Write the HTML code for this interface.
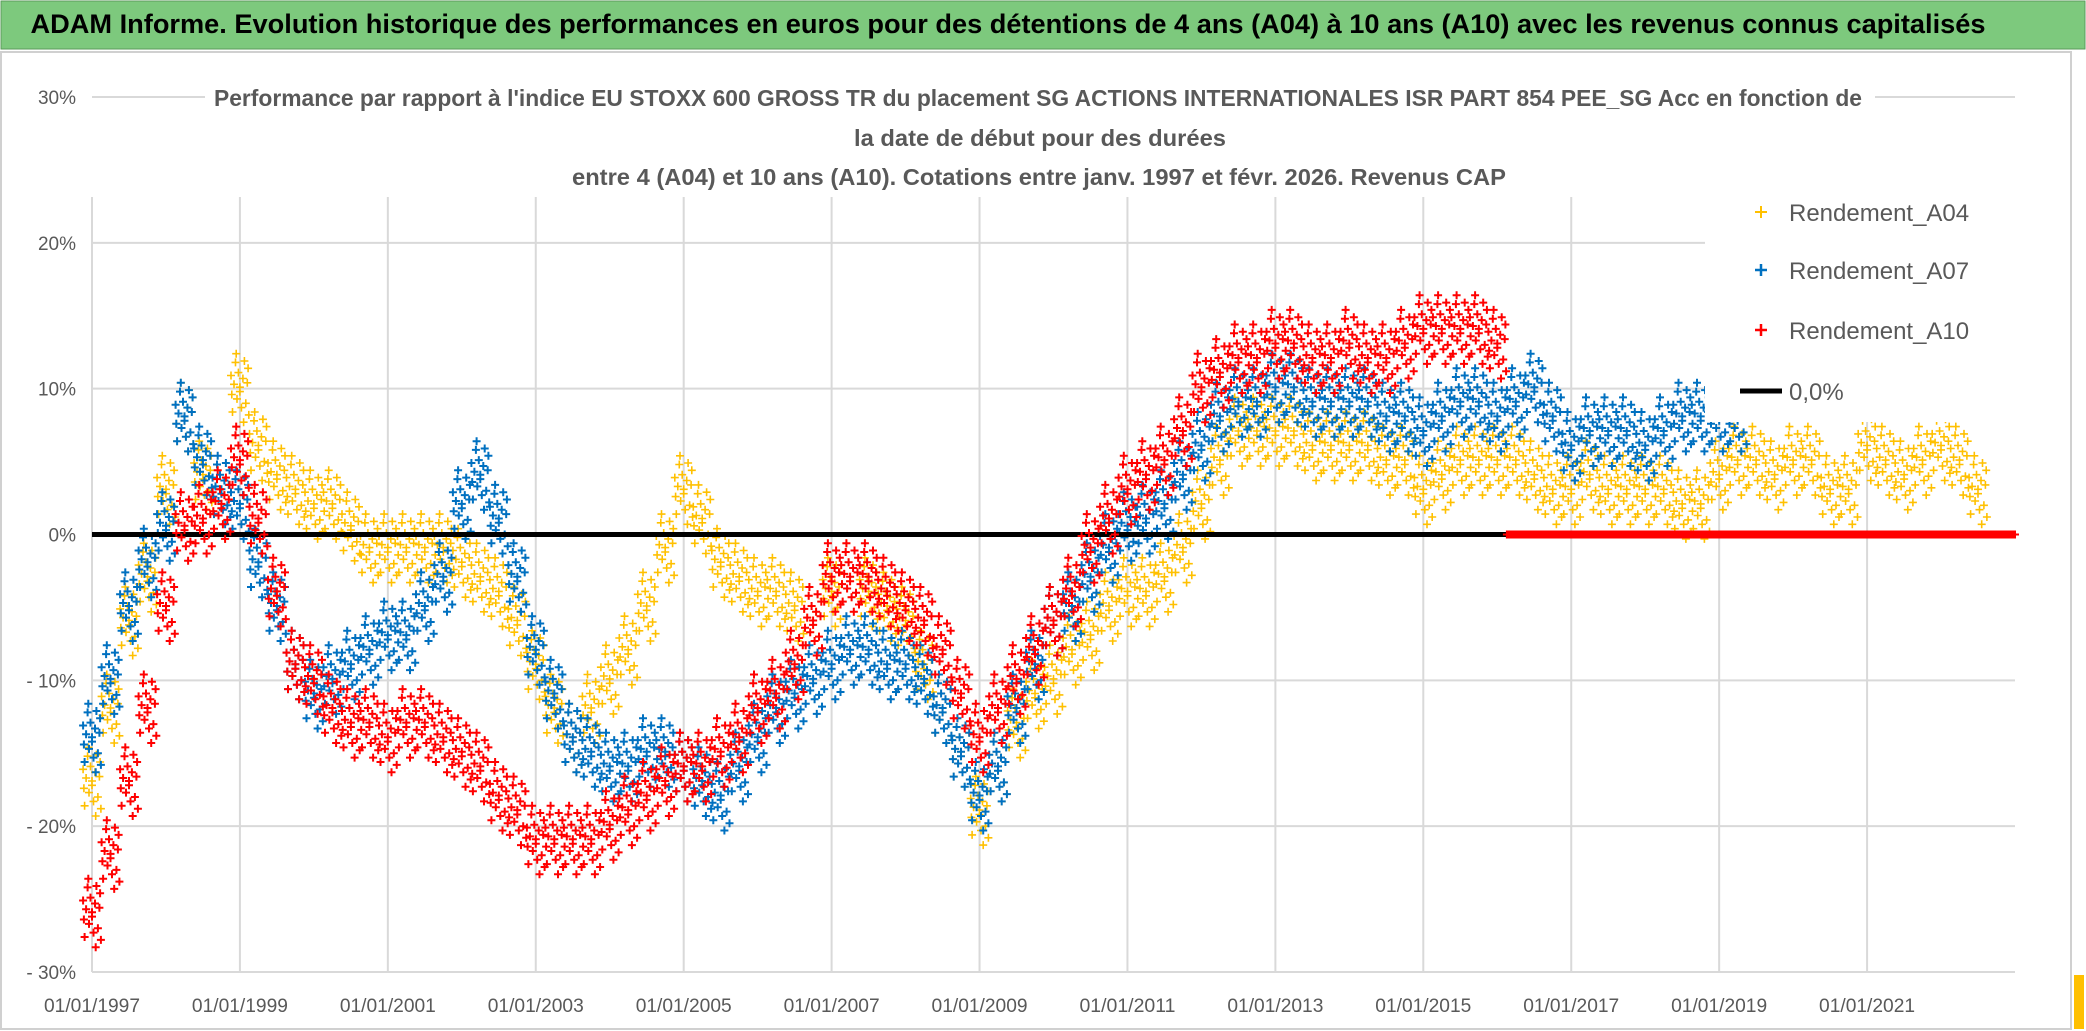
<!DOCTYPE html>
<html><head><meta charset="utf-8"><style>
html,body{margin:0;padding:0;background:#fff}
svg{display:block}
text{font-family:"Liberation Sans",sans-serif}
</style></head><body>
<svg id="chart" width="2086" height="1031" xmlns="http://www.w3.org/2000/svg">
<rect x="0" y="0" width="2086" height="1031" fill="#fff"/>
<rect x="1" y="1" width="2084" height="48" fill="#7DC97D" stroke="#5a9a5a" stroke-width="1"/>
<text x="1008" y="33" text-anchor="middle" font-size="27" font-weight="bold" fill="#000" textLength="1955" lengthAdjust="spacingAndGlyphs">ADAM Informe. Evolution historique des performances en euros pour des détentions de 4 ans (A04) à 10 ans (A10) avec les revenus connus capitalisés</text>
<rect x="1" y="52" width="2070" height="977" fill="none" stroke="#d0d0d0" stroke-width="2"/>
<g id="grid"></g>
<rect x="205" y="80" width="1670" height="115" fill="#fff"/>
<g fill="#595959" font-size="23" font-weight="bold" text-anchor="middle">
<text x="1038" y="106" textLength="1648" lengthAdjust="spacingAndGlyphs">Performance par rapport à l'indice EU STOXX 600 GROSS TR  du placement SG ACTIONS INTERNATIONALES ISR PART 854 PEE_SG Acc en fonction de</text>
<text x="1040" y="146" textLength="372" lengthAdjust="spacingAndGlyphs">la date de début pour des durées</text>
<text x="1039" y="185" textLength="934" lengthAdjust="spacingAndGlyphs">entre 4 (A04) et 10 ans (A10). Cotations entre janv. 1997 et févr. 2026. Revenus CAP</text>
</g>
<g id="ylabels"></g>
<g id="xlabels"></g>
<g id="series"></g>
<rect x="1705" y="197" width="310" height="225" fill="#fff"/>
<g font-size="24" fill="#595959">
<g><path d="M1755 212h12M1761 206v12" stroke="#FFC000" stroke-width="2"/><text x="1789" y="221">Rendement_A04</text></g>
<g><path d="M1755 270h12M1761 264v12" stroke="#0070C0" stroke-width="2.5"/><text x="1789" y="279">Rendement_A07</text></g>
<g><path d="M1755 330h12M1761 324v12" stroke="#FF0000" stroke-width="2.5"/><text x="1789" y="339">Rendement_A10</text></g>
<g><path d="M1740 391h42" stroke="#000" stroke-width="5"/><text x="1789" y="400">0,0%</text></g>
</g>
<rect x="2074" y="975" width="10" height="54" fill="#FFC000"/>
</svg>
<script>
const startYear = 1997;
const stepYears = 0.25;
const yTicks = [30, 20, 10, 0, -10, -20, -30];
const yTickLabels = ["30%", "20%", "10%", "0%", "- 10%", "- 20%", "- 30%"];
const xTicks = [1997, 1999, 2001, 2003, 2005, 2007, 2009, 2011, 2013, 2015, 2017, 2019, 2021];
const xTickLabels = ["01/01/1997","01/01/1999","01/01/2001","01/01/2003","01/01/2005","01/01/2007","01/01/2009","01/01/2011","01/01/2013","01/01/2015","01/01/2017","01/01/2019","01/01/2021"];
const a04 = [-17,-12,-6,-3, 3,8,4,2, 10,6,4,3, 2,2,0.5,-1, -1,-1,-1,-1, -2,-3,-4,-6, -9,-12,-14,-12, -10,-8,-5,-1, 3,1,-2,-3, -4,-4,-5,-6, -4,-3,-4,-5, -6,-9,-12,-15, -19,-16,-13,-11, -10,-8,-7,-5, -4,-4,-3,-1, 2,5,7,7, 7,7,6,6, 6,6,5,5, 3,4,5,5, 5,5,4,3, 3,4,3,3, 3,3,2,2, 4,5,5,4, 5,5,3,3, 6,5,4,5, 6,5,3,0, 0,0,0,0];
const a07 = [-14,-10,-5,-2, 0.5,8,5,3, 2,-2,-5,-9, -11,-10,-9,-8, -7,-7,-5,-3, 2,4,1,-3, -8,-11,-14,-15, -16,-16,-15,-15, -16,-17,-18,-16, -14,-12,-11,-10, -9,-8,-8,-9, -9,-10,-12,-15, -18,-16,-12,-9, -6,-5,-3,-1, 0.5,1,2,4, 6,8,9,9, 10,10,9,9, 9,9,8,8, 7,8,9,9, 8,9,10,8, 6,7,7,7, 6,7,8,8, 8,8,0,0, 0,0,0,0, 0,0,0,0, 0,0,0,0, 0,0,0,0];
const a10 = [-26,-22,-17,-12, -5,0.5,1,2, 5,1,-4,-9, -10,-12,-13,-13, -14,-13,-13,-14, -15,-16,-18,-19, -21,-21,-21,-21, -20,-19,-18,-17, -16,-16,-15,-14, -12,-11,-9,-6, -3,-3,-3,-4, -5,-6,-8,-11, -14,-12,-10,-8, -6,-4,-1,1, 3,4,5,7, 10,11,12,12, 13,13,12,12, 13,12,12,13, 14,14,14,14, 13,0,0,0, 0,0,0,0, 0,0,0,0, 0,0,0,0, 0,0,0,0, 0,0,0,0, 0,0,0,0, 0,0,0,0];

const X0 = 92, X1 = 2015, Y0 = 972, Y1 = 97;
const xMin = 1997, xMax = 2023, yMin = -30, yMax = 30;
function xs(t){ return X0 + (t - xMin) / (xMax - xMin) * (X1 - X0); }
function ys(v){ return Y0 - (v - yMin) / (yMax - yMin) * (Y0 - Y1); }
const NS = "http://www.w3.org/2000/svg";
const grid = document.getElementById('grid');
yTicks.forEach((v, i) => {
  const l = document.createElementNS(NS, 'line');
  l.setAttribute('x1', X0); l.setAttribute('x2', X1);
  l.setAttribute('y1', ys(v)); l.setAttribute('y2', ys(v));
  l.setAttribute('stroke', '#d9d9d9'); l.setAttribute('stroke-width', '2');
  
  
  grid.appendChild(l);
  const t = document.createElementNS(NS, 'text');
  t.setAttribute('x', 76); t.setAttribute('y', ys(v) + 7);
  t.setAttribute('text-anchor', 'end'); t.setAttribute('font-size', '19'); t.setAttribute('fill', '#595959');
  t.textContent = yTickLabels[i];
  
  
  document.getElementById('ylabels').appendChild(t);
});
xTicks.forEach((v, i) => {
  const l = document.createElementNS(NS, 'line');
  l.setAttribute('x1', xs(v)); l.setAttribute('x2', xs(v));
  l.setAttribute('y1', 197); l.setAttribute('y2', Y0);
  l.setAttribute('stroke', '#d9d9d9'); l.setAttribute('stroke-width', '2');
  
  
  grid.appendChild(l);
  const t = document.createElementNS(NS, 'text');
  t.setAttribute('x', xs(v)); t.setAttribute('y', 1012);
  t.setAttribute('text-anchor', 'middle'); t.setAttribute('font-size', '19'); t.setAttribute('fill', '#595959');
  t.setAttribute('textLength', '96'); t.setAttribute('lengthAdjust', 'spacingAndGlyphs');
  t.textContent = xTickLabels[i];
  
  
  document.getElementById('xlabels').appendChild(t);
});
const seriesG = document.getElementById('series');
// marker cluster pattern (style): offsets in years / percent
const clusterDx = [-0.12,-0.1,-0.08,-0.06,-0.04,-0.02,0.0,0.02,0.04,0.06,0.08,0.1,0.12,-0.05,0.05,0.0,-0.11,0.11];
const clusterDy = [0.9,-1.6,0.3,1.8,-0.7,1.1,-0.2,-1.3,0.7,1.9,-1.0,0.4,-1.8,2.4,-2.3,0.1,-0.4,1.4];
function drawSeries(vals, color, name, sw){
  const g = document.createElementNS(NS, 'g');
  
  
  let d = '';
  vals.forEach((v, i) => {
    const t = startYear + i * stepYears;
    const spread = v === 0 ? 0 : 1;
    for (let k = 0; k < clusterDx.length; k++) {
      const px = xs(t + clusterDx[k]);
      const py = ys(v + clusterDy[k] * spread);
      if (px > X1) continue;
      d += 'M' + (px - 4).toFixed(1) + ' ' + py.toFixed(1) + 'h8M' + px.toFixed(1) + ' ' + (py - 4).toFixed(1) + 'v8';
    }
  });
  const p = document.createElementNS(NS, 'path');
  p.setAttribute('d', d);
  p.setAttribute('stroke', color); p.setAttribute('stroke-width', sw); p.setAttribute('fill', 'none');
  
  
  g.appendChild(p);
  seriesG.appendChild(g);
}
drawSeries(a04, '#FFC000', 'series-a04', 1.6);
drawSeries(a07, '#0070C0', 'series-a07', 2);
const zl = document.createElementNS(NS, 'line');
zl.setAttribute('x1', X0); zl.setAttribute('x2', X1);
zl.setAttribute('y1', ys(0)); zl.setAttribute('y2', ys(0));
zl.setAttribute('stroke', '#000'); zl.setAttribute('stroke-width', '5');


seriesG.appendChild(zl);
drawSeries(a10, '#FF0000', 'series-a10', 2);
</script>
</body></html>
